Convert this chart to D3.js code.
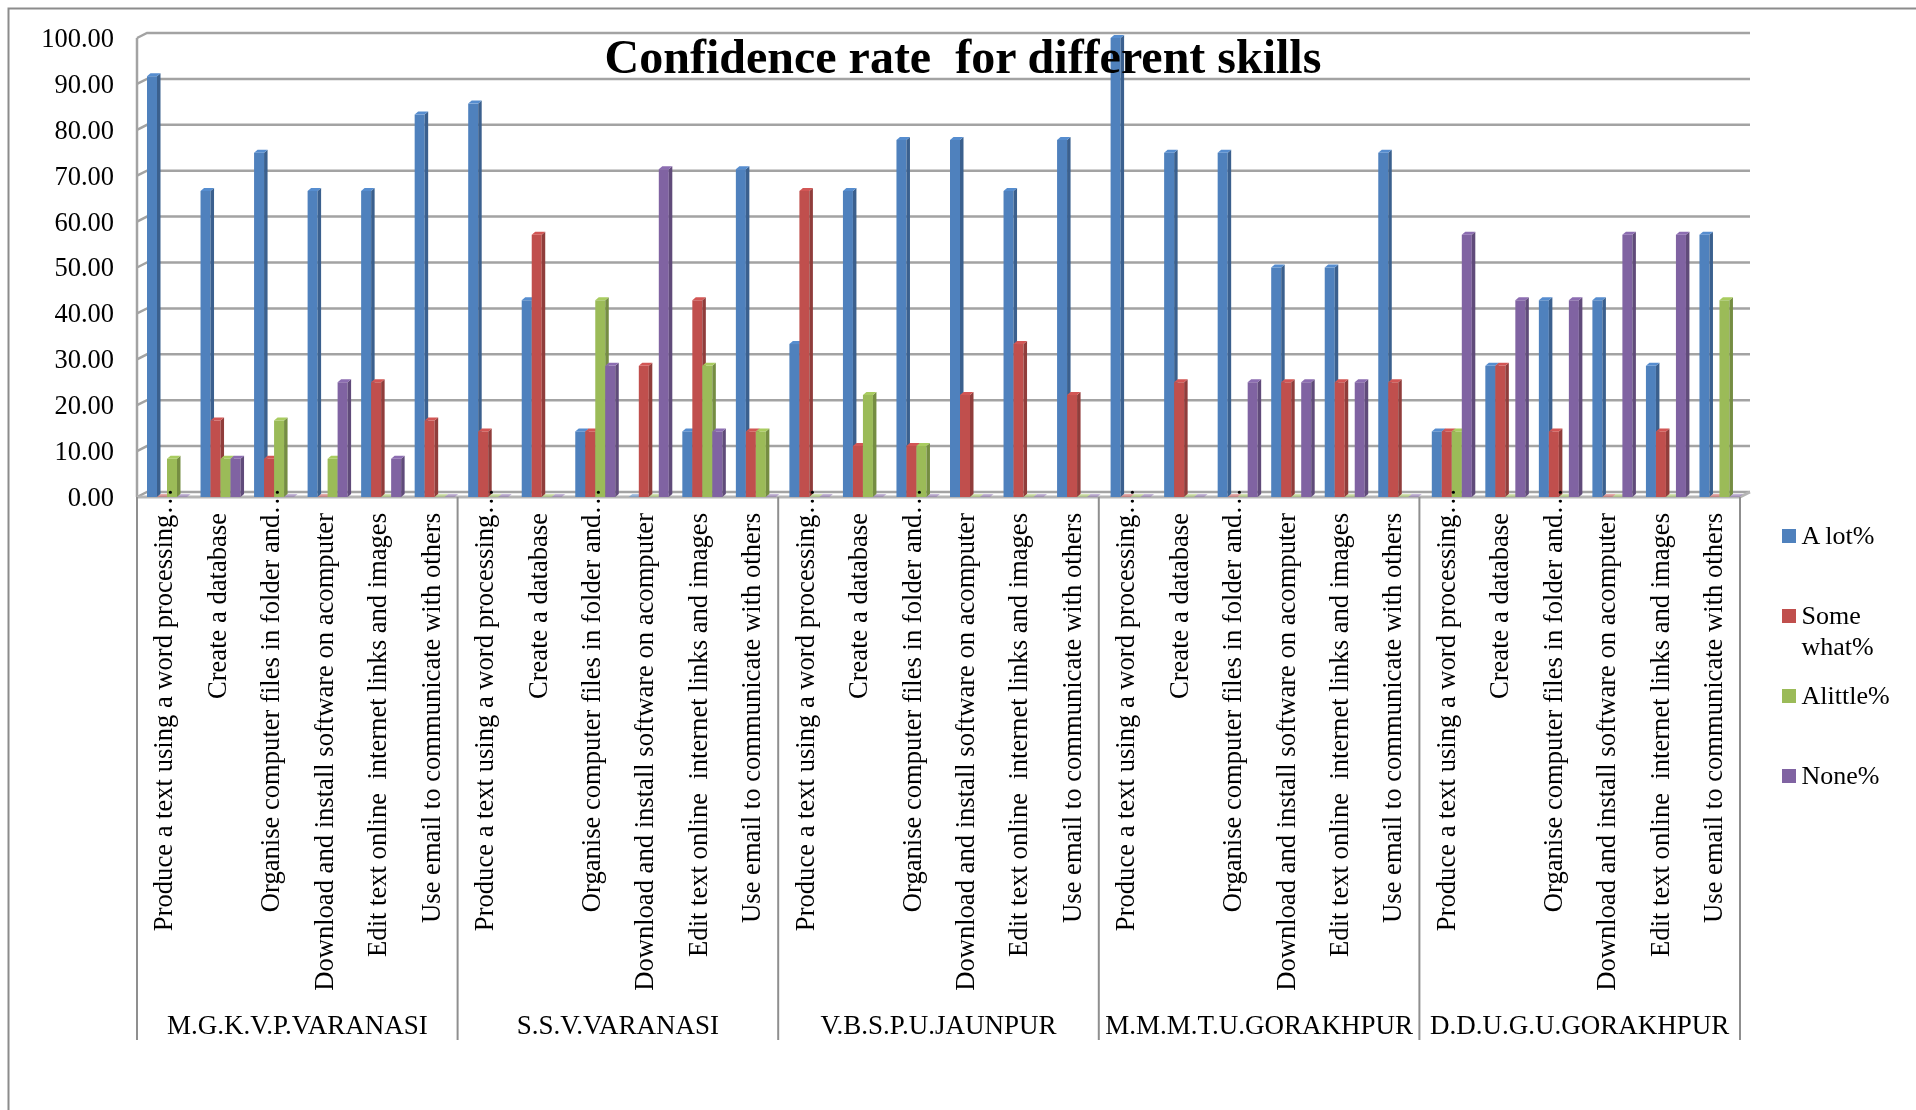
<!DOCTYPE html>
<html>
<head>
<meta charset="utf-8">
<script src="https://cdn.jsdelivr.net/npm/d3@7"></script>
<style>
  html, body { margin: 0; padding: 0; background: #fff; }
  svg { display: block; font-family: "Liberation Serif", serif; }
  text { white-space: pre; }
</style>
</head>
<body>
<svg id="chart" width="1916" height="1110"></svg>
<script>
const skills = [
  "Produce a text using a word processing…",
  "Create a database",
  "Organise computer files in folder and…",
  "Download and install software on acomputer",
  "Edit text online  internet links and images",
  "Use email to communicate with others"
];
const universities = ["M.G.K.V.P.VARANASI", "S.S.V.VARANASI", "V.B.S.P.U.JAUNPUR", "M.M.M.T.U.GORAKHPUR", "D.D.U.G.U.GORAKHPUR"];
const yTicks = [0, 10, 20, 30, 40, 50, 60, 70, 80, 90, 100];

const aLot = [
  91.67, 66.67, 75, 66.67, 66.67, 83.33,
  85.71, 42.86, 14.29, 0, 14.29, 71.43,
  33.33, 66.67, 77.78, 77.78, 66.67, 77.78,
  100, 75, 75, 50, 50, 75,
  14.29, 28.57, 42.86, 42.86, 28.57, 57.14
];
const someWhat = [
  0, 16.67, 8.33, 0, 25, 16.67,
  14.29, 57.14, 14.29, 28.57, 42.86, 14.29,
  66.67, 11.11, 11.11, 22.22, 33.33, 22.22,
  0, 25, 0, 25, 25, 25,
  14.29, 28.57, 14.29, 0, 14.29, 0
];
const aLittle = [
  8.33, 8.33, 16.67, 8.33, 0, 0,
  0, 0, 42.86, 0, 28.57, 14.29,
  0, 22.22, 11.11, 0, 0, 0,
  0, 0, 0, 0, 0, 0,
  14.29, 0, 0, 0, 0, 42.86
];
const none = [
  0, 8.33, 0, 25, 8.33, 0,
  0, 0, 28.57, 71.43, 14.29, 0,
  0, 0, 0, 0, 0, 0,
  0, 0, 25, 25, 25, 0,
  57.14, 42.86, 42.86, 57.14, 57.14, 0
];

const seriesValues = [aLot, someWhat, aLittle, none];
const seriesColors = ["#4f81bd", "#c0504d", "#9bbb59", "#8064a2"];
const legendLines = [["A lot%"], ["Some", "what%"], ["Alittle%"], ["None%"]];

const svg = d3.select("#chart");
const gray = "#a3a3a3";

// the source is a slightly soft screenshot
svg.append("defs").append("filter")
  .attr("id", "soft")
  .attr("x", "-2%").attr("y", "-2%").attr("width", "104%").attr("height", "104%")
  .append("feGaussianBlur")
  .attr("stdDeviation", 0.55);
const root = svg.append("g").attr("filter", "url(#soft)");

// front plane of the 3d box, the back wall sits up and to the right of it
const left = 137, right = 1740, y0 = 497, y100 = 38;
const wallDx = 10, wallDy = 5;
const barDx = 3.5, barDy = 3;

const indices = d3.range(aLot.length);
const x = d3.scaleBand().domain(indices).range([left, right]);
// bars drift a little to the right of the labels in the source
const xBars = d3.scaleBand().domain(indices).range([left, right + 3]);
const xSub = d3.scaleBand().domain(d3.range(4)).range([10, 50]);
const y = d3.scaleLinear().domain([0, 100]).range([y0, y100]);

// outer frame
root.append("path")
  .attr("d", "M8.5,1110V8.5H1916")
  .attr("fill", "none")
  .attr("stroke", "#8c8c8c")
  .attr("stroke-width", 2);

// walls and gridlines
const grid = root.append("g").attr("fill", "none").attr("stroke", gray).attr("stroke-width", 2.5);
grid.selectAll(".gl")
  .data(yTicks)
  .join("path")
  .attr("class", "gl")
  .attr("d", d => `M${left},${y(d)}L${left + wallDx},${y(d) - wallDy}H${right + wallDx}`);
grid.append("path").attr("d", `M${left},${y0}V${y100}`);
grid.append("path")
  .attr("d", `M${left},${y0}H${right}L${right + wallDx},${y0 - wallDy}`)
  .attr("stroke", "#b5b5b5")
  .attr("stroke-width", 3);

// bars, left to right so the side of one goes behind the next
const bars = root.append("g");
indices.forEach(i => {
  seriesValues.forEach((vals, s) => {
    const bx = xBars(i) + xSub(s), bw = xSub.bandwidth();
    const top = y(vals[i]);
    const col = d3.color(seriesColors[s]);
    const g = bars.append("g");
    g.append("rect")
      .attr("x", bx).attr("y", top)
      .attr("width", bw).attr("height", y0 - top)
      .attr("fill", col);
    g.append("path")
      .attr("d", `M${bx + bw},${top}l${barDx},${-barDy}V${y0 - barDy}l${-barDx},${barDy}Z`)
      .attr("fill", col.darker(0.8));
    // zero values only leave a faint tint on the floor
    g.append("path")
      .attr("d", `M${bx},${top}l${barDx},${-barDy}h${bw}l${-barDx},${barDy}Z`)
      .attr("fill", col.brighter(0.25))
      .attr("opacity", vals[i] === 0 ? 0.5 : 1);
  });
});

// value axis
const yAxis = d3.axisLeft(y).tickValues(yTicks).tickSize(0).tickPadding(23).tickFormat(d3.format(".2f"));
root.append("g")
  .attr("transform", `translate(${left},0)`)
  .call(yAxis)
  .call(g => g.select(".domain").remove())
  .selectAll("text")
  .attr("font-family", "Liberation Serif")
  .attr("font-size", 26.5)
  .attr("fill", "#000");

// skill labels
const xAxis = d3.axisBottom(x).tickSize(0).tickFormat(i => skills[i % skills.length]);
root.append("g")
  .attr("transform", `translate(0,${y0})`)
  .call(xAxis)
  .call(g => g.select(".domain").remove())
  .selectAll("text")
  .attr("font-family", "Liberation Serif")
  .attr("font-size", 26.6)
  .attr("fill", "#000")
  .attr("text-anchor", "end")
  .attr("dy", "0.33em")
  .attr("y", 0)
  .attr("transform", i => `translate(0,${skills[i % skills.length].endsWith("…") ? -9 : 16}) rotate(-90)`);

// university groups
const groupSize = skills.length;
const groupEdge = d3.range(universities.length + 1).map(k => k < universities.length ? x(k * groupSize) : right);
root.append("g")
  .selectAll("line")
  .data(groupEdge)
  .join("line")
  .attr("x1", d => d).attr("x2", d => d)
  .attr("y1", y0).attr("y2", 1040)
  .attr("stroke", "#8f8f8f")
  .attr("stroke-width", 2);
root.append("g")
  .selectAll("text")
  .data(universities)
  .join("text")
  .attr("x", (d, k) => (groupEdge[k] + groupEdge[k + 1]) / 2)
  .attr("y", 1034)
  .attr("text-anchor", "middle")
  .attr("font-size", 27)
  .attr("fill", "#000")
  .text(d => d);

// title
root.append("text")
  .attr("x", 963).attr("y", 73)
  .attr("text-anchor", "middle")
  .attr("font-size", 48)
  .attr("font-weight", "bold")
  .attr("fill", "#000")
  .text("Confidence rate  for different skills");

// legend
const legend = root.append("g")
  .selectAll("g")
  .data(legendLines)
  .join("g")
  .attr("transform", (d, s) => `translate(1782,${529 + s * 80})`);
legend.append("rect")
  .attr("width", 14).attr("height", 14)
  .attr("fill", (d, s) => seriesColors[s]);
legend.each(function (lines) {
  d3.select(this).selectAll("text")
    .data(lines)
    .join("text")
    .attr("x", 19.5)
    .attr("y", (d, n) => 15 + n * 31)
    .attr("font-size", 26)
    .attr("fill", "#000")
    .text(d => d);
});
</script>
</body>
</html>
